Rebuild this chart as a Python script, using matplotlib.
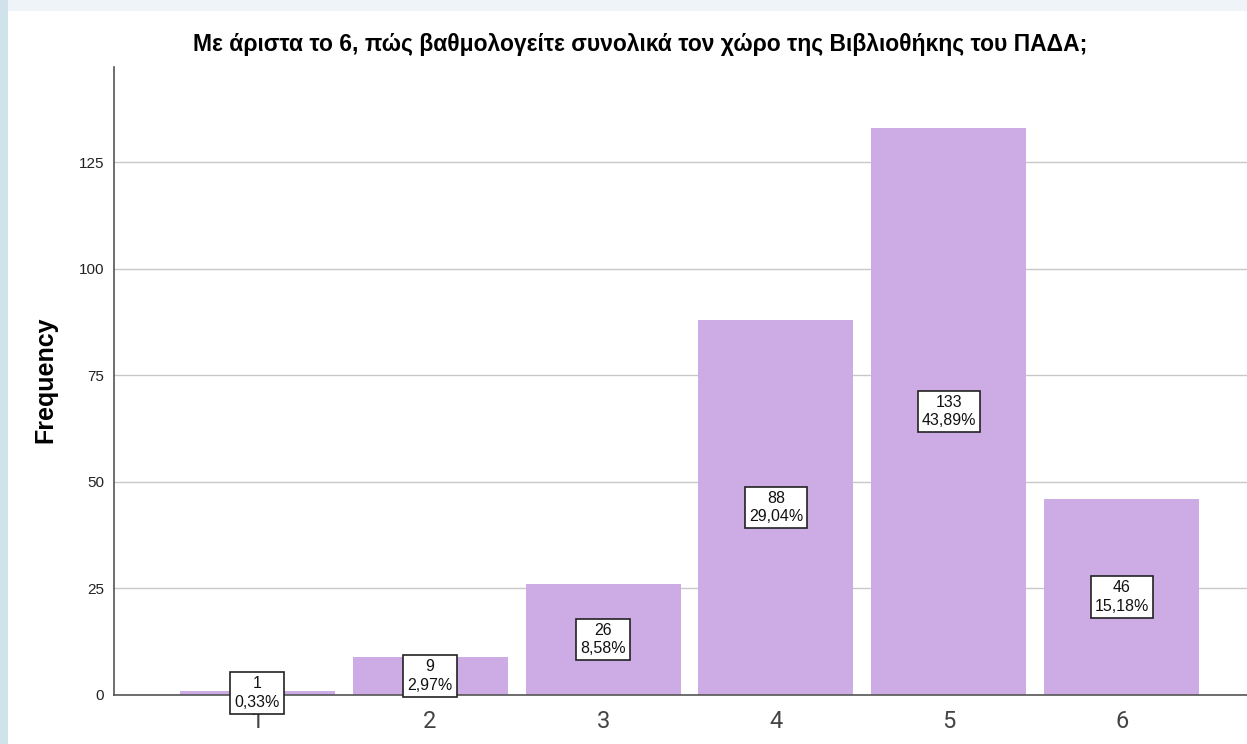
"""
Bar chart of the library rating survey (scale 1-6), SPSS-like look.
"""

import matplotlib.pyplot as plt
from matplotlib.patches import Rectangle

plt.rcParams["font.family"] = ["Liberation Sans", "DejaVu Sans"]

# Data
categories = ["1", "2", "3", "4", "5", "6"]
frequencies = [1, 9, 26, 88, 133, 46]
percent_labels = ["0,33%", "2,97%", "8,58%", "29,04%", "43,89%", "15,18%"]
y_ticks = [0, 25, 50, 75, 100, 125]

title = "Με άριστα το 6, πώς βαθμολογείτε συνολικά τον χώρο της Βιβλιοθήκης του ΠΑΔΑ;"

BAR_COLOR = "#cdabe4"

fig = plt.figure(figsize=(12.47, 7.44), dpi=100, facecolor="#eef4f7")

# White chart panel with a bluish strip on the left (page background)
fig.patches.append(Rectangle((0, 0), 8 / 1247, 1, transform=fig.transFigure,
                             facecolor="#d0e3ea", edgecolor="none", zorder=-10))
fig.patches.append(Rectangle((8 / 1247, 0), 1, 733 / 744, transform=fig.transFigure,
                             facecolor="white", edgecolor="none", zorder=-10))

ax = fig.add_axes([114 / 1247, 49 / 744, 1 - 114 / 1247, 628 / 744])
ax.set_facecolor("none")

x = list(range(1, len(categories) + 1))
ax.bar(x, frequencies, width=0.896, color=BAR_COLOR, edgecolor="none", zorder=2)

for xi, freq, pct in zip(x, frequencies, percent_labels):
    ax.text(xi, freq / 2, f"{freq}\n{pct}", ha="center", va="center",
            fontsize=11.5, color="#111111", linespacing=1.3, zorder=4,
            bbox=dict(boxstyle="square,pad=0.25", facecolor="white",
                      edgecolor="#222222", linewidth=1.2))

ax.set_xlim(0.173, 6.723)
ax.set_ylim(0, 147.4)
ax.set_xticks(x)
ax.set_xticklabels(categories, fontsize=17, color="#444444",
                   family=["Roboto", "Liberation Sans"])
ax.set_yticks(y_ticks)
ax.set_yticklabels([str(t) for t in y_ticks], fontsize=11, color="#222222")
ax.tick_params(axis="both", length=0)
ax.tick_params(axis="x", pad=11)
ax.tick_params(axis="y", pad=7)

ax.grid(axis="y", color="#c8c8c8", linewidth=1, zorder=1)
ax.set_axisbelow(True)
for side in ["top", "right"]:
    ax.spines[side].set_visible(False)
for side in ["left", "bottom"]:
    ax.spines[side].set_color("#555555")
    ax.spines[side].set_linewidth(1.2)
    ax.spines[side].set_zorder(3)

fig.text(45 / 1247, 1 - 380 / 744, "Frequency", rotation=90, ha="center",
         va="center", fontsize=18, fontweight="bold")
fig.text(640 / 1247, 1 - 45 / 744, title, ha="center", va="center",
         fontsize=16.5, fontweight="bold")

fig.savefig("out.png", dpi=100, facecolor=fig.get_facecolor())
